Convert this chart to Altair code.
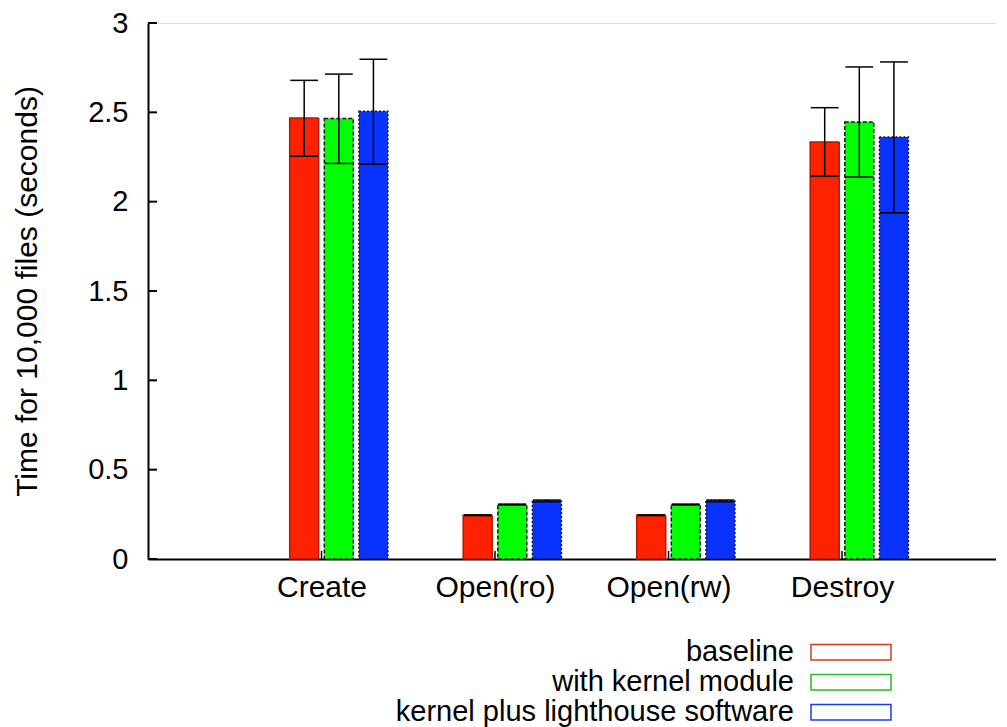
import altair as alt
import pandas as pd

categories = ["Create", "Open(ro)", "Open(rw)", "Destroy"]
series = ["baseline", "with kernel module", "kernel plus lighthouse software"]

baseline = [2.468, 0.245, 0.245, 2.334]
baseline_lo = [2.254, 0.243, 0.243, 2.142]
baseline_hi = [2.679, 0.247, 0.247, 2.526]

kernel = [2.465, 0.305, 0.305, 2.446]
kernel_lo = [2.214, 0.303, 0.303, 2.138]
kernel_hi = [2.714, 0.307, 0.307, 2.754]

lighthouse = [2.506, 0.325, 0.325, 2.362]
lighthouse_lo = [2.210, 0.321, 0.321, 1.938]
lighthouse_hi = [2.797, 0.330, 0.330, 2.782]

y_ticks = [0, 0.5, 1, 1.5, 2, 2.5, 3]

fills = ["#ff2200", "#00ff00", "#0a32ff"]
edge = ["#b01a00", "#1a1a1a", "#1a1a1a"]
dashes = [[1, 0], [4, 2], [2, 2]]

rows = []
for si, (vals, los, his) in enumerate([(baseline, baseline_lo, baseline_hi),
                                       (kernel, kernel_lo, kernel_hi),
                                       (lighthouse, lighthouse_lo, lighthouse_hi)]):
    for ci, cat in enumerate(categories):
        pos = (ci + 1) + (si - 0.5) * 0.1995
        rows.append({"category": cat, "series": series[si], "value": vals[ci],
                     "lo": los[ci], "hi": his[ci], "pos": pos,
                     "cl": pos - 0.08, "cr": pos + 0.08})
df = pd.DataFrame(rows)

FONT = "Liberation Sans"
W = 848
XMAX = W / 173.5

xscale = alt.Scale(domain=[0, XMAX], nice=False, zero=False, padding=0)
yscale = alt.Scale(domain=[0, 3], nice=False, padding=0)

label_expr = "datum.value == 1 ? 'Create' : datum.value == 2 ? 'Open(ro)' : datum.value == 3 ? 'Open(rw)' : datum.value == 4 ? 'Destroy' : ''"

base = alt.Chart(df)

bars = base.mark_bar(size=29, strokeWidth=1.5).encode(
    x=alt.X("pos:Q", scale=xscale,
            axis=alt.Axis(values=[1, 2, 3, 4], labelExpr=label_expr, title=None,
                          ticks=False, grid=False, labelFontSize=30, labelFont=FONT,
                          labelColor="black", labelPadding=13, domainColor="black",
                          domainWidth=2, labelFlush=False)),
    y=alt.Y("value:Q", scale=yscale,
            axis=alt.Axis(values=y_ticks, format="~g", title="Time for 10,000 files (seconds)",
                          ticks=False, grid=False, labelFontSize=29, labelFont=FONT,
                          labelColor="black", labelPadding=20, domainColor="black",
                          domainWidth=2, titleFont=FONT, titleFontSize=30,
                          titleFontWeight="normal", titleColor="black", titlePadding=45,
                          labelFlush=False)),
    fill=alt.Fill("series:N", scale=alt.Scale(domain=series, range=fills), legend=None),
    stroke=alt.Stroke("series:N", scale=alt.Scale(domain=series, range=edge), legend=None),
    strokeDash=alt.StrokeDash("series:N", scale=alt.Scale(domain=series, range=dashes), legend=None),
)

err = base.mark_rule(color="black", strokeWidth=1.5).encode(
    x=alt.X("pos:Q", scale=xscale), y=alt.Y("lo:Q", scale=yscale), y2="hi:Q")
cap_hi = base.mark_rule(color="black", strokeWidth=1.5).encode(
    x=alt.X("cl:Q", scale=xscale), x2="cr:Q", y=alt.Y("hi:Q", scale=yscale))
cap_lo = base.mark_rule(color="black", strokeWidth=1.5).encode(
    x=alt.X("cl:Q", scale=xscale), x2="cr:Q", y=alt.Y("lo:Q", scale=yscale))

ytick_df = pd.DataFrame({"t": y_ticks})
yt = alt.Chart(ytick_df).mark_rule(color="black", strokeWidth=2).encode(
    y=alt.Y("t:Q", scale=yscale), x=alt.value(0), x2=alt.value(9))

xtick_df = pd.DataFrame({"c": [1, 2, 3, 4]})
xt = alt.Chart(xtick_df).mark_rule(color="black", strokeWidth=1.5).encode(
    x=alt.X("c:Q", scale=xscale), y=alt.value(536), y2=alt.value(528))

main = alt.layer(bars, err, cap_hi, cap_lo, yt, xt)

leg_df = pd.DataFrame({"series": series, "row": [0, 1, 2]})
leg_scale = alt.Scale(domain=[0, 2], range=[629.3, 689.3], nice=False, zero=False, padding=0)
leg_text = alt.Chart(leg_df).mark_text(align="right", baseline="middle", fontSize=29,
                                       font=FONT, color="black").encode(
    x=alt.value(646), y=alt.Y("row:Q", scale=leg_scale, axis=None), text="series:N")
leg_box = alt.Chart(leg_df).transform_calculate(
    r0="datum.row - 0.26", r1="datum.row + 0.26"
).mark_rect(fill="white", strokeWidth=1.5).encode(
    x=alt.value(663), x2=alt.value(743),
    y=alt.Y("r0:Q", scale=leg_scale, axis=None), y2="r1:Q",
    stroke=alt.Stroke("series:N", scale=alt.Scale(domain=series, range=["#d83a1a", "#1fbf1f", "#1a3aff"]), legend=None),
    strokeDash=alt.StrokeDash("series:N", scale=alt.Scale(domain=series, range=dashes), legend=None),
)
legend = alt.layer(leg_text, leg_box)

chart = alt.layer(main, legend).resolve_scale(
    y="independent", stroke="independent", strokeDash="independent"
).properties(
    width=W, height=536,
    autosize=alt.AutoSizeParams(type="none"),
    padding={"left": 140, "top": 15, "right": 0, "bottom": 168},
).configure_view(stroke="transparent").configure(background="white")

chart.save("out.html", embed_options={"renderer": "svg", "actions": False})
